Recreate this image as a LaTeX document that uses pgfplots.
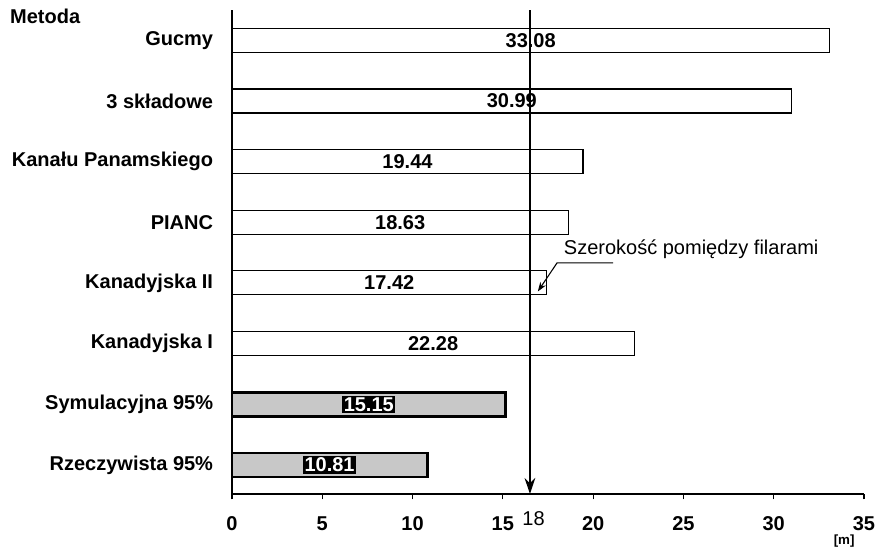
\documentclass[border=0pt]{standalone}
\usepackage{pgfplots}
\pgfplotsset{compat=1.18}
\usepackage{pgfplotstable}
\usepackage{fontspec}
\setmainfont{Liberation Sans}
\usetikzlibrary{arrows.meta}
\definecolor{bargray}{RGB}{200,200,200}
\pgfplotstableread{
y val
7 33.08
6 30.99
5 19.44
4 18.63
3 17.42
2 22.28
}\whitebars
\pgfplotstableread{
y val
1 15.15
0 10.81
}\graybars
\begin{document}
\begin{tikzpicture}
\fontsize{15}{17}\selectfont
\path[use as bounding box] (-174pt,-39.75pt) rectangle (487.5pt,370.5pt);
\begin{axis}[
  at={(0pt,0pt)}, anchor=south west,
  scale only axis, width=474pt, height=363pt,
  xmin=0, xmax=35, ymin=-0.48, ymax=7.5,
  axis lines=left,
  axis line style={line width=0.9pt, -},
  xtick={0,5,...,35},
  ytick={0,...,7},
  yticklabels={Rzeczywista 95\%, Symulacyjna 95\%, Kanadyjska I, Kanadyjska II, PIANC, Kanału Panamskiego, 3 składowe, Gucmy},
  ytick style={draw=none},
  tick label style={font=\fontsize{15}{17}\selectfont\bfseries},
  /pgf/number format/assume math mode=true,
  xtick style={line width=0.8pt, black},
  tick align=outside, major tick length=4pt,
  xticklabel style={yshift=-8pt},
  yticklabel style={xshift=-5pt},
  extra x ticks={16.7}, extra x tick labels={18},
  extra x tick style={major tick length=0pt, tick label style={font=\fontsize{15}{17}\selectfont}},
  clip=false,
]
\addplot[xbar, bar width=18pt, fill=white, draw=black, line width=0.8pt]
  table[x=val, y=y]{\whitebars};
\addplot[xbar, bar width=18pt, fill=bargray, draw=black, line width=2pt]
  table[x=val, y=y]{\graybars};
\addplot[only marks, mark=none, nodes near coords, point meta=explicit,
  nodes near coords style={anchor=center, font=\fontsize{15}{17}\selectfont\bfseries, /pgf/number format/.cd, fixed, fixed zerofill, precision=2}]
  table[x expr=\thisrow{val}/2, y=y, meta=val]{\whitebars};
\addplot[only marks, mark=none, nodes near coords, point meta=explicit,
  nodes near coords style={anchor=center, fill=black, text=white, inner sep=1.2pt, font=\fontsize{15}{17}\selectfont\bfseries, /pgf/number format/.cd, fixed, fixed zerofill, precision=2}]
  table[x expr=\thisrow{val}/2, y=y, meta=val]{\graybars};
\draw[line width=1.5pt, -{Stealth[length=12pt,width=8pt]}] (axis cs:16.5,7.5) -- (axis cs:16.5,-0.48);
\node[anchor=west, font=\fontsize{15}{17}\selectfont] at (axis cs:18.0,3.56) {Szerokość pomiędzy filarami};
\draw[line width=0.8pt, -{Stealth[length=7pt,width=5pt]}] (axis cs:21.1,3.33) -- (axis cs:18.0,3.33) -- (axis cs:16.94,2.86);
\node[anchor=west, font=\fontsize{15}{17}\selectfont\bfseries] at (rel axis cs:-0.362,0.986) {Metoda};
\node[font=\fontsize{10}{12}\selectfont\bfseries, inner sep=0.5pt] at (axis cs:33.9,-0.48) [yshift=-35.5pt] {[m]};
\end{axis}
\end{tikzpicture}
\end{document}
